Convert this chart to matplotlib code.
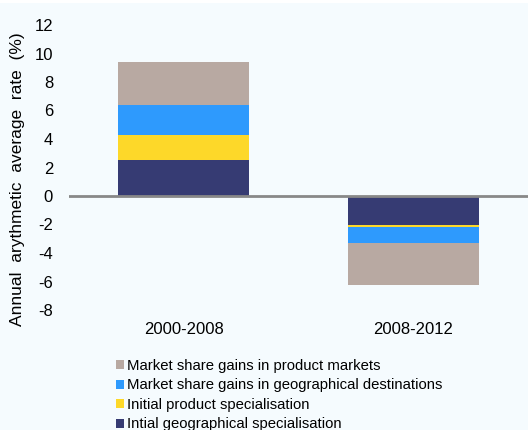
import matplotlib.pyplot as plt
import matplotlib.patches as mpatches
import numpy as np

plt.rcParams['font.family'] = ['Liberation Sans', 'DejaVu Sans']
plt.rcParams['axes.unicode_minus'] = False

periods = ["2000-2008", "2008-2012"]
geo_spec = [2.5, -2.05]
prod_spec = [1.75, -0.15]
geo_gains = [2.15, -1.07]
prod_gains = [3.0, -3.0]

series = [
    ("Intial geographical specialisation", geo_spec, "#363B73"),
    ("Initial product specialisation", prod_spec, "#FDD829"),
    ("Market share gains in geographical destinations", geo_gains, "#2E9AFD"),
    ("Market share gains in product markets", prod_gains, "#B8A9A2"),
]

BG = "#F5FBFE"

fig = plt.figure(figsize=(5.28, 4.30), dpi=100, facecolor=BG)
# thin white strip at the very top
fig.patches.append(mpatches.Rectangle((0, 1 - 3 / 430), 1, 3 / 430, transform=fig.transFigure,
                                      facecolor="white", edgecolor="none"))
ax = fig.add_axes([69 / 528, 1 - 310 / 430, 1 - 69 / 528, 285 / 430])
ax.set_facecolor(BG)

x = np.arange(len(periods))
pos_base = np.zeros(len(periods))
neg_base = np.zeros(len(periods))
for label, vals, color in series:
    vals = np.array(vals)
    base = np.where(vals >= 0, pos_base, neg_base)
    ax.bar(x, vals, width=0.57, bottom=base, color=color, label=label, zorder=2)
    pos_base += np.where(vals >= 0, vals, 0)
    neg_base += np.where(vals < 0, vals, 0)

ax.axhline(0, color="#888888", lw=2, zorder=3)
ax.set_xlim(-0.5, 1.5)
ax.set_ylim(-8, 12)
ax.set_yticks(range(-8, 13, 2))
ax.set_xticks(x)
ax.set_xticklabels(periods)
for s in ax.spines.values():
    s.set_visible(False)
ax.tick_params(axis="both", length=0, labelsize=12)
ax.tick_params(axis="x", pad=9)
ax.tick_params(axis="y", pad=11.5)

fig.text(18 / 528, 1 - 179 / 430, "Annual  arythmetic  average  rate  (%)", rotation=90,
         ha="center", va="center", fontsize=12.5)

handles, labels = ax.get_legend_handles_labels()
leg = fig.legend(handles[::-1], labels[::-1], loc="upper left", bbox_to_anchor=(110 / 528, 1 - 353 / 430),
                 frameon=False, fontsize=10.7, handlelength=0.55, handleheight=0.55,
                 handletextpad=0.2, labelspacing=0.37, borderaxespad=0)

plt.savefig("out.png", dpi=100, facecolor=BG)
